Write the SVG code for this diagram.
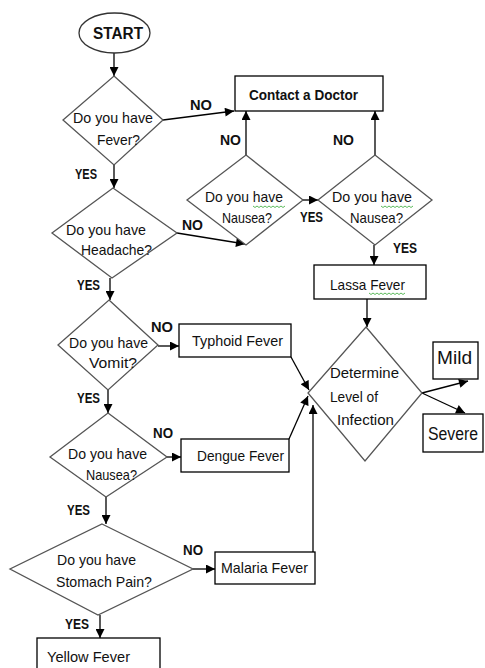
<svg xmlns="http://www.w3.org/2000/svg" width="485" height="668" viewBox="0 0 485 668">
<defs>
<marker id="ah" viewBox="0 0 10 10" refX="10" refY="5" markerWidth="10" markerHeight="9" markerUnits="userSpaceOnUse" orient="auto">
<path d="M0,0 L10,5 L0,10 Z" fill="#000"/>
</marker>
<style>
.dia{fill:#fff;stroke:#555;stroke-width:1.3}
.box{fill:#fff;stroke:#000;stroke-width:1.3}
.t{font-family:"Liberation Sans",Arial,sans-serif;font-size:15px;fill:#111}
.b{font-family:"Liberation Sans",Arial,sans-serif;font-size:14px;font-weight:bold;fill:#111}
.big{font-size:19px}
.sv{font-size:18px}
.st{font-size:16px}
.c{fill:none;stroke:#000;stroke-width:1.3;marker-end:url(#ah)}
.sq{fill:none;stroke:#3a3;stroke-width:0.8}
</style>
</defs>
<rect width="485" height="668" fill="#fff"/>

<g id="connectors">
<path class="c" d="M114,53 L114,76"/>
<path class="c" d="M163,120 L234,111"/>
<path class="c" d="M114,165 L114,188"/>
<path class="c" d="M177,233 L245,244"/>
<path class="c" d="M246,155 L246,111"/>
<path class="c" d="M303,200 L318,200"/>
<path class="c" d="M375,155 L375,111"/>
<path class="c" d="M374,245 L374,265"/>
<path class="c" d="M367,299 L367,327"/>
<path class="c" d="M110,278 L110,300"/>
<path class="c" d="M158,346 L179,346"/>
<path class="c" d="M108,390 L108,413"/>
<path class="c" d="M167,457 L181,457"/>
<path class="c" d="M106,497 L106,524"/>
<path class="c" d="M193,569 L215,569"/>
<path class="c" d="M100,615 L100,638"/>
<path class="c" d="M291,357 L309,390"/>
<path class="c" d="M289,439 L308,396"/>
<path class="c" d="M313,552 L313,405"/>
<path class="c" d="M422,393 L468,381"/>
<path class="c" d="M422,393 L465,413"/>
</g>

<g id="labels">
<text class="b" x="190" y="110" textLength="22" lengthAdjust="spacingAndGlyphs">NO</text>
<text class="b" x="75" y="179" textLength="22" lengthAdjust="spacingAndGlyphs">YES</text>
<text class="b" x="220" y="145" textLength="21" lengthAdjust="spacingAndGlyphs">NO</text>
<text class="b" x="333" y="145" textLength="21" lengthAdjust="spacingAndGlyphs">NO</text>
<text class="b" x="182" y="230" textLength="21" lengthAdjust="spacingAndGlyphs">NO</text>
<text class="b" x="300" y="222" textLength="23" lengthAdjust="spacingAndGlyphs">YES</text>
<text class="b" x="393" y="253" textLength="24" lengthAdjust="spacingAndGlyphs">YES</text>
<text class="b" x="77" y="290" textLength="23" lengthAdjust="spacingAndGlyphs">YES</text>
<text class="b" x="151" y="332" textLength="22" lengthAdjust="spacingAndGlyphs">NO</text>
<text class="b" x="77" y="403" textLength="23" lengthAdjust="spacingAndGlyphs">YES</text>
<text class="b" x="153" y="438" textLength="20" lengthAdjust="spacingAndGlyphs">NO</text>
<text class="b" x="67" y="515" textLength="23" lengthAdjust="spacingAndGlyphs">YES</text>
<text class="b" x="183" y="555" textLength="20" lengthAdjust="spacingAndGlyphs">NO</text>
<text class="b" x="65" y="629" textLength="24" lengthAdjust="spacingAndGlyphs">YES</text>
</g>

<g id="start">
<ellipse cx="114.5" cy="33" rx="35.5" ry="20" fill="#fff" stroke="#333" stroke-width="1.3"/>
<text class="b st" x="93" y="39" textLength="50" lengthAdjust="spacingAndGlyphs">START</text>
</g>

<g id="fever">
<polygon class="dia" points="114,76 163,120 114,165 63,120"/>
<text class="t" x="73" y="123" textLength="80" lengthAdjust="spacingAndGlyphs">Do you have</text>
<text class="t" x="97" y="145" textLength="43" lengthAdjust="spacingAndGlyphs">Fever?</text>
</g>

<g id="contact">
<rect class="box" x="235" y="76" width="148" height="35"/>
<text class="b" x="249" y="100" textLength="109" lengthAdjust="spacingAndGlyphs">Contact a Doctor</text>
</g>

<g id="headache">
<polygon class="dia" points="113,188 177,233 112,278 52,233"/>
<text class="t" x="66" y="235" textLength="80" lengthAdjust="spacingAndGlyphs">Do you have</text>
<text class="t" x="81" y="255" textLength="71" lengthAdjust="spacingAndGlyphs">Headache?</text>
</g>

<g id="nausea1">
<polygon class="dia" points="246,155 303,200 246,245 187,200"/>
<text class="t" x="205" y="202" textLength="78" lengthAdjust="spacingAndGlyphs">Do you have</text>
<text class="t" x="222" y="223" textLength="50" lengthAdjust="spacingAndGlyphs">Nausea?</text>
<path class="sq" d="M253,206 l2,1.5 2,-1.5 2,1.5 2,-1.5 2,1.5 2,-1.5 2,1.5 2,-1.5 2,1.5 2,-1.5 2,1.5 2,-1.5 2,1.5 2,-1.5 2,1.5 2,-1.5"/>
</g>

<g id="nausea2">
<polygon class="dia" points="375,155 432,200 375,245 318,200"/>
<text class="t" x="332" y="202" textLength="80" lengthAdjust="spacingAndGlyphs">Do you have</text>
<text class="t" x="350" y="223" textLength="53" lengthAdjust="spacingAndGlyphs">Nausea?</text>
<path class="sq" d="M381,206 l2,1.5 2,-1.5 2,1.5 2,-1.5 2,1.5 2,-1.5 2,1.5 2,-1.5 2,1.5 2,-1.5 2,1.5 2,-1.5 2,1.5 2,-1.5 2,1.5 2,-1.5"/>
</g>

<g id="lassa">
<rect class="box" x="314" y="265" width="112" height="34"/>
<text class="t" x="330" y="290" textLength="75" lengthAdjust="spacingAndGlyphs">Lassa Fever</text>
<path class="sq" d="M369,293 l2,1.5 2,-1.5 2,1.5 2,-1.5 2,1.5 2,-1.5 2,1.5 2,-1.5 2,1.5 2,-1.5 2,1.5 2,-1.5 2,1.5 2,-1.5 2,1.5 2,-1.5 2,1.5 2,-1.5"/>
</g>

<g id="vomit">
<polygon class="dia" points="109,300 158,345 108,390 58,345"/>
<text class="t" x="69" y="348" textLength="79" lengthAdjust="spacingAndGlyphs">Do you have</text>
<text class="t" x="89" y="368" textLength="48" lengthAdjust="spacingAndGlyphs">Vomit?</text>
</g>

<g id="typhoid">
<rect class="box" x="179" y="324" width="112" height="33"/>
<text class="t" x="192" y="346" textLength="91" lengthAdjust="spacingAndGlyphs">Typhoid Fever</text>
</g>

<g id="determine">
<polygon class="dia" points="366,327 422,393 365,461 308,393"/>
<text class="t" x="330" y="378" textLength="69" lengthAdjust="spacingAndGlyphs">Determine</text>
<text class="t" x="330" y="402" textLength="48" lengthAdjust="spacingAndGlyphs">Level of</text>
<text class="t" x="337" y="425" textLength="57" lengthAdjust="spacingAndGlyphs">Infection</text>
</g>

<g id="mild">
<rect class="box" x="433" y="342" width="45" height="37"/>
<text class="t big" x="437" y="364" textLength="35" lengthAdjust="spacingAndGlyphs">Mild</text>
</g>

<g id="severe">
<rect class="box" x="423" y="414" width="60" height="38"/>
<text class="t sv" x="428" y="440" textLength="50" lengthAdjust="spacingAndGlyphs">Severe</text>
</g>

<g id="nausea3">
<polygon class="dia" points="108,413 167,457 106,497 50,457"/>
<text class="t" x="68" y="459" textLength="79" lengthAdjust="spacingAndGlyphs">Do you have</text>
<text class="t" x="86" y="480" textLength="51" lengthAdjust="spacingAndGlyphs">Nausea?</text>
</g>

<g id="dengue">
<rect class="box" x="181" y="439" width="108" height="33"/>
<text class="t" x="197" y="461" textLength="87" lengthAdjust="spacingAndGlyphs">Dengue Fever</text>
</g>

<g id="stomach">
<polygon class="dia" points="102,524 193,569 98,615 10,569"/>
<text class="t" x="57" y="565" textLength="79" lengthAdjust="spacingAndGlyphs">Do you have</text>
<text class="t" x="56" y="587" textLength="96" lengthAdjust="spacingAndGlyphs">Stomach Pain?</text>
</g>

<g id="malaria">
<rect class="box" x="215" y="552" width="100" height="32"/>
<text class="t" x="221" y="573" textLength="87" lengthAdjust="spacingAndGlyphs">Malaria Fever</text>
</g>

<g id="yellow">
<rect class="box" x="37" y="638" width="123" height="40"/>
<text class="t" x="47" y="662" textLength="83" lengthAdjust="spacingAndGlyphs">Yellow Fever</text>
</g>
</svg>
